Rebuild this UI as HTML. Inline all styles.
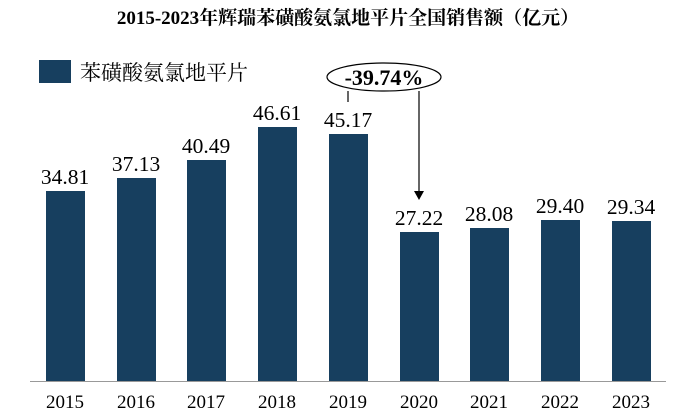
<!DOCTYPE html><html><head><meta charset="utf-8"><style>body{margin:0;background:#fff}</style></head><body>
<svg width="697" height="415" xmlns="http://www.w3.org/2000/svg" style="display:block">
<text x="348" y="24" text-anchor="middle" font-family="Liberation Serif, Noto Serif CJK SC, serif" font-weight="bold" font-size="19">2015-2023年辉瑞苯磺酸氨氯地平片全国销售额（亿元）</text>
<rect x="39" y="60" width="32" height="23" fill="#173f5f"/>
<text x="80" y="80" font-family="Noto Serif CJK SC, serif" font-size="21">苯磺酸氨氯地平片</text>
<g fill="#173f5f">
<rect x="46" y="191" width="39" height="190"/>
<rect x="117" y="178" width="39" height="203"/>
<rect x="187" y="160" width="39" height="221"/>
<rect x="258" y="127" width="39" height="254"/>
<rect x="329" y="134" width="39" height="247"/>
<rect x="400" y="232" width="39" height="149"/>
<rect x="470" y="228" width="39" height="153"/>
<rect x="541" y="220" width="39" height="161"/>
<rect x="612" y="221" width="39" height="160"/>
</g>
<line x1="30" y1="381.5" x2="666" y2="381.5" stroke="#999" stroke-width="1"/>
<g font-family="Liberation Serif, serif" font-size="21.5" text-anchor="middle">
<text x="65" y="184">34.81</text><text x="136" y="171">37.13</text><text x="206" y="153">40.49</text>
<text x="277" y="120">46.61</text><text x="348" y="127">45.17</text><text x="419" y="225">27.22</text>
<text x="489" y="221">28.08</text><text x="560" y="213">29.40</text><text x="631" y="214">29.34</text>
</g>
<g font-family="Liberation Serif, serif" font-size="19" text-anchor="middle">
<text x="65" y="408">2015</text><text x="136" y="408">2016</text><text x="206" y="408">2017</text>
<text x="277" y="408">2018</text><text x="348" y="408">2019</text><text x="419" y="408">2020</text>
<text x="489" y="408">2021</text><text x="560" y="408">2022</text><text x="631" y="408">2023</text>
</g>
<ellipse cx="384" cy="77" rx="57" ry="14" fill="#fff" stroke="#000" stroke-width="1.2"/>
<text x="384" y="85" text-anchor="middle" font-family="Liberation Serif, serif" font-weight="bold" font-size="22">-39.74%</text>
<line x1="348" y1="91" x2="348" y2="102" stroke="#000" stroke-width="1.2"/>
<line x1="419" y1="91" x2="419" y2="192" stroke="#000" stroke-width="1.2"/>
<polygon points="414,191 424,191 419,200" fill="#000"/>
</svg>
</body></html>
